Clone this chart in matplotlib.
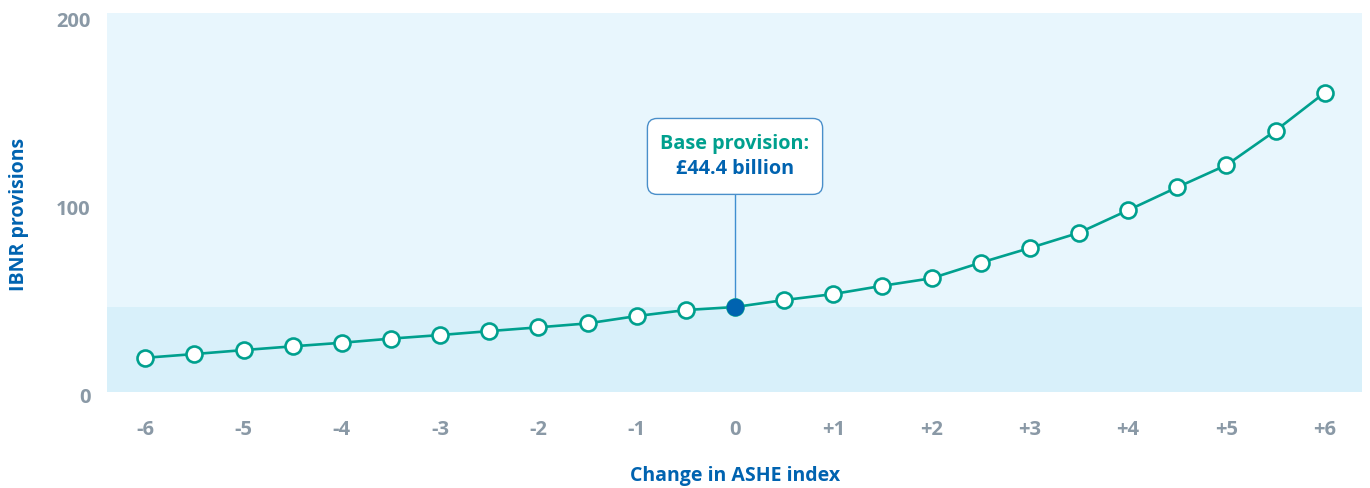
import matplotlib.pyplot as plt
from matplotlib.transforms import ScaledTranslation

# Sensitivity of IBNR provisions to the ASHE index
ashe_change = [-6, -5.5, -5, -4.5, -4, -3.5, -3, -2.5, -2, -1.5, -1, -0.5, 0,
               0.5, 1, 1.5, 2, 2.5, 3, 3.5, 4, 4.5, 5, 5.5, 6]
provisions = [17.4, 19.4, 21.5, 23.5, 25.4, 27.6, 29.5, 31.6, 33.6, 35.7, 39.6, 42.8, 44.4,
              48.1, 51.3, 55.7, 59.7, 68.0, 75.8, 83.9, 95.9, 108.1, 119.9, 138.2, 158.4]
base_x = 0
base_value = 44.4

xticks = [-6, -5, -4, -3, -2, -1, 0, 1, 2, 3, 4, 5, 6]
xtick_labels = ["-6", "-5", "-4", "-3", "-2", "-1", "0", "+1", "+2", "+3", "+4", "+5", "+6"]
yticks = [0, 100, 200]

teal = "#00a08e"
blue = "#0063b0"
grey = "#8a99a6"

plt.rcParams['font.family'] = ['Open Sans', 'DejaVu Sans']

fig = plt.figure(figsize=(13.7, 4.88), dpi=100)
ax = fig.add_axes([0.0781, 0.1967, 0.9161, 0.7767])
ax.set_facecolor("#e8f6fd")

ax.set_xlim(-6.39, 6.38)
ax.set_ylim(-0.8, 200.8)

# darker band below the base provision
ax.axhspan(-0.8, base_value, color="#d8f0fa", lw=0, zorder=0)

ax.plot(ashe_change, provisions, color=teal, lw=1.9, marker="o", ms=11.5,
        mfc="white", mec=teal, mew=1.9, zorder=3)
ax.plot([base_x], [base_value], marker="o", ms=11.5, mfc=blue, mec=blue, zorder=4)

# callout for the base provision
ax.plot([base_x, base_x], [base_value, 106], color="#3f8fd0", lw=1, zorder=2)
ax.text(base_x, 131.0, "Base provision:", ha="center", va="center",
        color=teal, fontsize=14.3, fontweight="bold", zorder=6)
ax.text(base_x, 118.0, "£44.4 billion", ha="center", va="center",
        color=blue, fontsize=14.3, fontweight="bold", zorder=6)
ax.text(base_x, 124.5, " " * 31 + "\n\n", ha="center", va="center", fontsize=14,
        bbox=dict(boxstyle="round,pad=0.42,rounding_size=0.5", fc="white",
                  ec="#4a8fca", lw=1), zorder=5)

ax.set_xticks(xticks)
ax.set_xticklabels(xtick_labels)
ax.set_yticks(yticks)
ax.tick_params(length=0, labelsize=14.5, labelcolor=grey)
ax.tick_params(axis="x", pad=20)
ax.tick_params(axis="y", pad=12)
for lab in ax.get_xticklabels() + ax.get_yticklabels():
    lab.set_fontweight("bold")
for lab in ax.get_yticklabels():
    lab.set_transform(lab.get_transform() + ScaledTranslation(0, -0.05, fig.dpi_scale_trans))

for s in ax.spines.values():
    s.set_visible(False)

fig.text(0.5365, 0.025, "Change in ASHE index", ha="center", va="center",
         color=blue, fontsize=14, fontweight="bold")
fig.text(0.014, 0.56, "IBNR provisions", ha="center", va="center", rotation=90,
         color=blue, fontsize=14, fontweight="bold")

fig.savefig("out.png", dpi=100, facecolor="white")
